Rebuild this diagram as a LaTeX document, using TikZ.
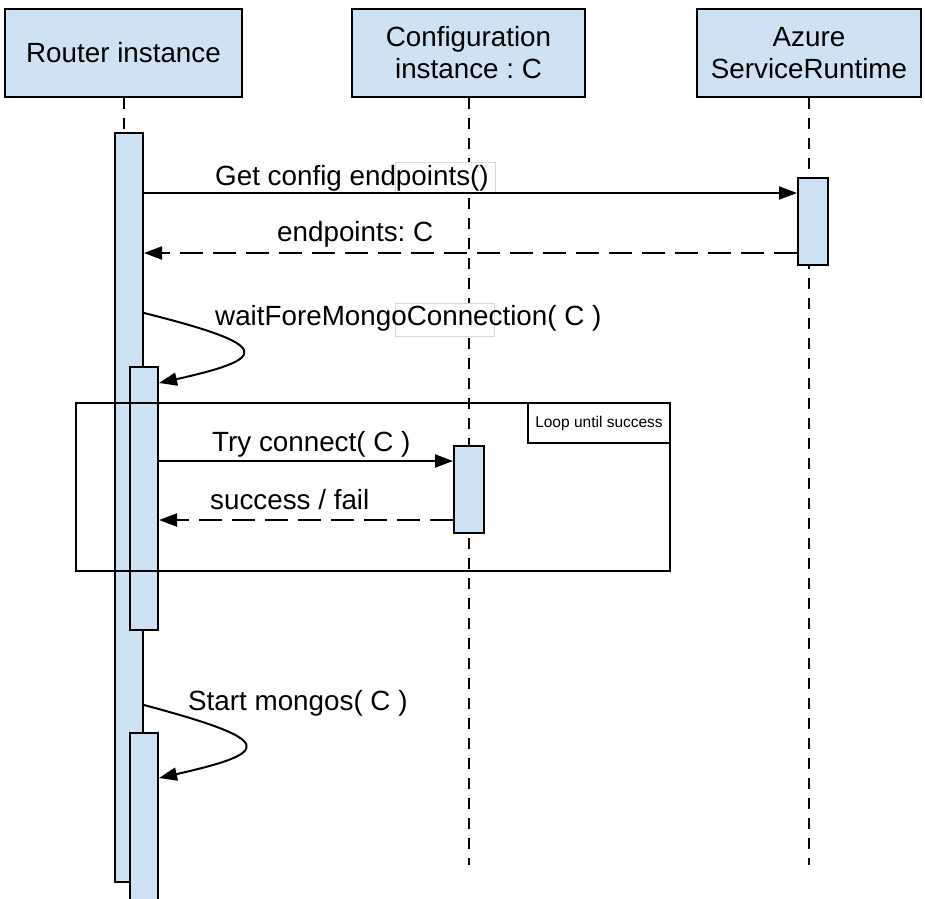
\documentclass[tikz,border=0pt]{standalone}
\usepackage{fontspec}
\setmainfont{Liberation Sans}
\usetikzlibrary{arrows.meta}
\definecolor{barblue}{RGB}{207,226,243}
\frenchspacing
\begin{document}
\begin{tikzpicture}[x=1pt,y=-1pt,
  head/.style={draw, line width=2pt, fill=barblue, align=center, font=\fontsize{27.8}{32}\selectfont, inner sep=0pt, minimum height=88pt},
  life/.style={line width=2pt, dash pattern=on 11pt off 9pt},
  bar/.style={draw, line width=2pt, fill=barblue, minimum width=28pt, inner sep=0pt},
  msg/.style={line width=2pt, -{Triangle[length=18pt,width=13pt]}},
  ret/.style={msg, dash pattern=on 23pt off 10pt},
  lbl/.style={font=\fontsize{27.8}{32}\selectfont, inner sep=0pt, anchor=base west},
  mask/.style={draw=black!15, line width=1pt, fill=white, inner sep=0pt},
]
\clip (0,0) rectangle (925,898);
% headers
\node[head, minimum width=237pt] (rh) at (123.5,53) {Router instance};
\node[head, minimum width=233pt] (ch) at (468.5,53) {Configuration\\instance : C};
\node[head, minimum width=224pt] (ah) at (809,53) {Azure\\ServiceRuntime};
% helper coordinates
\coordinate (yend) at (0,865);
\coordinate (y1) at (0,193);
\coordinate (y2) at (0,253);
\coordinate (y3) at (0,313);
\coordinate (y4) at (0,383);
\coordinate (y5) at (0,461);
\coordinate (y6) at (0,520);
\coordinate (y7) at (0,705);
\coordinate (y8) at (0,778);
% lifelines
\draw[life] (rh.south) -- (rh.south |- yend);
\draw[life] (ch.south) -- (ch.south |- yend);
\draw[life] (ah.south) -- (ah.south |- yend);
% label background boxes
\node[mask, minimum width=100pt, minimum height=31pt] (mask1) at (445,177.5) {};
\node[mask, minimum width=99pt, minimum height=33pt] (mask2) at (444.5,319.5) {};
% activation bars
\node[bar, minimum height=749pt] (rb) at (129,507.5) {};
\node[bar, minimum height=263pt] (rb2) at (144,498.5) {};
\node[bar, minimum height=180pt] (rb3) at (144,823) {};
\node[bar, minimum width=30pt, minimum height=87pt] (azb) at (813,221.5) {};
\node[bar, minimum width=30pt, minimum height=87pt] (cb) at (469,489.5) {};
% messages
\draw[msg] (rb.east |- y1) -- (azb.west |- y1);
\node[lbl] (l1) at (215,185) {Get config endpoints()};
\draw[ret] (azb.west |- y2) -- (rb.east |- y2);
\node[lbl] (l2) at (277,241) {endpoints: C};
\draw[msg] (rb.east |- y3) .. controls (272,345) and (272,358) .. (rb2.east |- y4);
\node[lbl] (l3) at (215,325) {waitForeMongoConnection( C )};
\draw[msg] (rb2.east |- y5) -- (cb.west |- y5);
\node[lbl] (l4) at (212,451) {Try connect( C )};
\draw[ret] (cb.west |- y6) -- (rb2.east |- y6);
\node[lbl] (l5) at (210,509) {success / fail};
\draw[msg] (rb.east |- y7) .. controls (275,740) and (275,752) .. (rb3.east |- y8);
\node[lbl] (l6) at (188,710) {Start mongos( C )};
% loop frame
\node[draw, line width=2pt, minimum width=594pt, minimum height=168pt, inner sep=0pt] (loop) at (373,487) {};
\node[draw, line width=2pt, fill=white, anchor=north east, minimum width=142pt, minimum height=40pt, font=\fontsize{15.5}{18}\selectfont, inner sep=0pt] (looplbl) at (loop.north east) {Loop until success};
\end{tikzpicture}
\end{document}
